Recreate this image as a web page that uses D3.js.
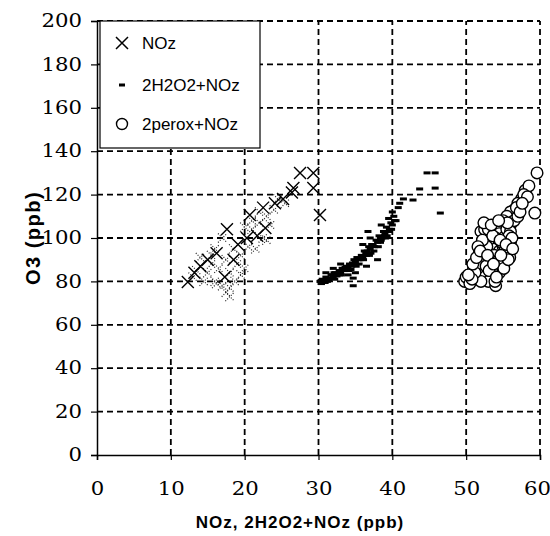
<!DOCTYPE html>
<html lang="en">
<head>
<meta charset="UTF-8">
<title>O3 vs NOz</title>
<script src="https://cdn.jsdelivr.net/npm/d3@7"></script>
<style>
  body { margin: 0; background: #fff; }
</style>
</head>
<body>
<div id="chart"></div>
<script>
// axis ticks
var xTicks = [0, 10, 20, 30, 40, 50, 60];
var yTicks = [0, 20, 40, 60, 80, 100, 120, 140, 160, 180, 200];

// NOz (clear crosses)
var nozX = [12.3, 14, 15, 16.2, 17.6, 17.3, 19.1, 20.3, 20.7, 21.7, 22.8, 22.5, 24.1, 25.2, 26.4, 27.5, 29.3, 26.6, 29.3, 30.2, 13.2, 18.5];
var nozY = [79.7, 87, 90, 93, 104, 82, 97, 100, 110.6, 101, 104.6, 114, 116, 118, 121, 130, 130, 123, 123, 110.6, 84, 90];

// NOz (faint, poorly printed crosses)
var nozFaintX = [13, 13.5, 14.5, 15, 15.5, 16, 16.5, 17, 17.5, 17.5, 18, 18.5, 18.7, 19, 19.5, 20, 20.5, 21, 21.5, 22, 22.5, 23, 23.5, 24, 24.5, 25.5, 16, 17, 14, 18, 19.5, 15.5, 23, 16.2, 18, 20, 21, 22];
var nozFaintY = [82, 85, 80, 84, 88, 80, 86, 78, 75, 90, 84, 95, 80, 88, 92, 86, 96, 104, 95, 107, 100, 110, 106, 113, 118, 116, 95, 100, 91, 73, 83, 92, 99, 79, 77, 105, 108, 112];

// 2H2O2+NOz (dashes)
var h2o2X = [30.2, 30.5, 30.8, 31, 31.2, 31.5, 31.8, 32, 32.3, 32.5, 32.8, 33, 33.2, 33.5, 33.8, 34, 34.2, 34.5, 34.8, 35, 35.2, 35.5, 35.8, 36, 36.2, 36.5, 36.8, 37, 37.2, 37.5, 37.8, 38, 38.2, 38.5, 38.8, 39, 39.2, 39.5, 39.8, 40, 40.2, 40.5, 40, 39.5, 38.5, 37, 36, 33, 32, 35, 36.5, 38, 34, 31, 40.8, 41, 41.5, 42.8, 43.7, 45.8, 44.7, 45.8, 46.5, 34.7, 34.7, 36.7,
            30.4, 30.9, 31.4, 31.7, 32.2, 32.6, 33.1, 33.6, 34.1, 34.6, 35.1, 35.6, 36.1, 36.6, 37.1, 37.6, 38.1, 38.6, 39.1, 39.6, 31.1, 32.1, 33.3, 34.4, 35.4, 36.4, 37.4, 38.4, 39.3, 40.3, 32.9, 34.9, 36.9, 38.9, 39.9];
var h2o2Y = [80, 81, 80.5, 82, 80, 81.5, 83, 82, 84, 82.5, 85, 84, 86, 85, 87, 86, 88, 87, 90, 89, 91, 88, 92, 91, 94, 92, 96, 95, 97, 94, 99, 98, 101, 99, 103, 102, 105, 103, 107, 106, 110, 108, 112, 109, 106, 100, 97, 88, 86, 84, 87, 90, 83, 84, 114, 116, 118, 117.5, 122.6, 123, 130, 130, 111.5, 81.5, 78, 103,
            79, 79.5, 80.5, 83, 81, 83.5, 83, 86.5, 85, 88.5, 87, 90, 90, 94, 93, 96, 96, 100, 100, 104, 81, 84, 86, 85.5, 90, 93, 97, 98, 101, 108, 83, 87.5, 92, 101, 104];

// 2perox+NOz (circles)
var peroxX = [49.8, 50, 50.5, 59.6, 59.3, 58, 57.5, 57, 56.5, 58.5, 57.8, 56, 55.5, 55, 54, 53, 52.5, 52, 53.5, 54.5, 55, 52, 53, 54, 55.5, 56, 53, 52, 51.5, 51, 52.5, 53.5, 54, 54.5, 55, 56, 55.5, 53, 54, 52, 51, 52.5, 53.5, 54.5, 55, 54, 53, 52.5, 56.5, 57, 55, 54.5, 53.5, 52, 56, 51.5, 52, 52.5, 53,
             51.8, 52.8, 53.8, 54.8, 55.8, 53.2, 54.2, 55.2, 56.2, 52.2, 51.2, 50.8, 53.6, 54.6, 55.6, 56.8, 57.3, 58.3, 52.4, 53.4, 54.4, 55.4, 51.6, 50.3, 53.9, 55.9, 57.6,
             50.9, 51.4, 52.7, 53.1, 54.1, 55.1, 55.7, 56.3, 51.9, 52.9, 53.7, 54.7];
var peroxY = [80, 82, 79, 130, 111.5, 122, 118, 116, 113, 124, 120, 112, 110, 108, 105, 103, 100, 97, 98, 102, 100, 92, 94, 96, 104, 106, 88, 86, 84, 82, 82, 83, 86, 90, 92, 98, 95, 80, 78, 80, 86, 90, 91, 94, 96, 100, 99, 95, 108, 110, 88, 84, 86, 89, 103, 88, 103, 104, 104,
             93, 96, 92, 98, 101, 90, 89, 94, 100, 99, 84, 81, 101, 99, 107, 114, 112, 119, 107, 106, 108, 97, 96, 83, 80, 91, 116,
             88, 91, 87, 85, 82, 86, 90, 95, 94, 92, 88, 92];

var legendLabels = ["NOz", "2H2O2+NOz", "2perox+NOz"];

var width = 550, height = 536;
var margin = { left: 97, right: 10, top: 21, bottom: 81 };

var svg = d3.select("#chart").append("svg")
    .attr("width", width)
    .attr("height", height);

var x = d3.scaleLinear().domain([0, 60]).range([margin.left, width - margin.right]);
var y = d3.scaleLinear().domain([0, 200]).range([height - margin.bottom, margin.top]);

// dashed grid (includes top and right borders)
svg.append("g").selectAll("line")
    .data(yTicks.filter(function(d) { return d > 0; }))
    .enter().append("line")
    .attr("x1", x(0)).attr("x2", x(60))
    .attr("y1", function(d) { return y(d); })
    .attr("y2", function(d) { return y(d); })
    .attr("stroke", "#000")
    .attr("stroke-width", 1.8)
    .attr("stroke-dasharray", "6,4");

svg.append("g").selectAll("line")
    .data(xTicks.filter(function(d) { return d > 0; }))
    .enter().append("line")
    .attr("y1", y(0)).attr("y2", y(200))
    .attr("x1", function(d) { return x(d); })
    .attr("x2", function(d) { return x(d); })
    .attr("stroke", "#000")
    .attr("stroke-width", 1.8)
    .attr("stroke-dasharray", "6,4");

// axes
var yAxis = svg.append("g")
    .attr("transform", "translate(" + x(0) + ",0)")
    .call(d3.axisLeft(y).tickValues(yTicks).tickSize(6).tickPadding(9));
var xAxis = svg.append("g")
    .attr("transform", "translate(0," + y(0) + ")")
    .call(d3.axisBottom(x).tickValues(xTicks).tickSize(5).tickPadding(22));

[xAxis, yAxis].forEach(function(ax) {
    ax.attr("font-family", "DejaVu Serif").attr("font-size", 18);
    ax.select(".domain").attr("stroke", "#000").attr("stroke-width", 1.5);
    ax.selectAll(".tick line").attr("stroke", "#000").attr("stroke-width", 1.2);
    ax.selectAll(".tick text")
        .attr("fill", "#000")
        .attr("font-family", "DejaVu Serif")
        .attr("font-size", 18)
        .attr("textLength", function(d) { return String(d).length * 13.5; })
        .attr("lengthAdjust", "spacingAndGlyphs");
});
// keep the last x label inside the picture, as in the reference
xAxis.selectAll(".tick text").filter(function(d) { return d === 60; }).attr("dx", -3);

// axis titles
svg.append("text")
    .attr("x", 300).attr("y", 528)
    .attr("text-anchor", "middle")
    .style("font-family", "'Liberation Sans', Arial, sans-serif")
    .style("font-weight", "bold")
    .style("font-size", "17px")
    .style("letter-spacing", "1px")
    .text("NOz, 2H2O2+NOz (ppb)");

svg.append("text")
    .attr("transform", "translate(40," + y(100) + ") rotate(-90)")
    .attr("text-anchor", "middle")
    .style("font-family", "'Liberation Sans', Arial, sans-serif")
    .style("font-weight", "bold")
    .style("font-size", "20px")
    .style("letter-spacing", "1.5px")
    .text("O3 (ppb)");

// marker helpers
function cross(cx, cy, s) {
    return "M" + (cx - s) + "," + (cy - s) + "L" + (cx + s) + "," + (cy + s) +
           "M" + (cx - s) + "," + (cy + s) + "L" + (cx + s) + "," + (cy - s);
}

var plot = svg.append("g");

// faint crosses
plot.append("g").selectAll("path")
    .data(d3.range(nozFaintX.length))
    .enter().append("path")
    .attr("d", function(i) { return cross(x(nozFaintX[i]), y(nozFaintY[i]), 4.5); })
    .attr("stroke", "#222")
    .attr("stroke-width", 1.2)
    .attr("stroke-dasharray", "1,1.6")
    .attr("fill", "none");

// crosses
plot.append("g").selectAll("path")
    .data(d3.range(nozX.length))
    .enter().append("path")
    .attr("d", function(i) { return cross(x(nozX[i]), y(nozY[i]), 6); })
    .attr("stroke", "#000")
    .attr("stroke-width", 1.4)
    .attr("fill", "none");

// dashes
plot.append("g").selectAll("rect")
    .data(d3.range(h2o2X.length))
    .enter().append("rect")
    .attr("x", function(i) { return x(h2o2X[i]) - 3.5; })
    .attr("y", function(i) { return y(h2o2Y[i]) - 1.5; })
    .attr("width", 7)
    .attr("height", 3)
    .attr("fill", "#000");

// circles
plot.append("g").selectAll("circle")
    .data(d3.range(peroxX.length))
    .enter().append("circle")
    .attr("cx", function(i) { return x(peroxX[i]); })
    .attr("cy", function(i) { return y(peroxY[i]); })
    .attr("r", 5.8)
    .attr("fill", "#fff")
    .attr("stroke", "#000")
    .attr("stroke-width", 1.4);

// legend
var legend = svg.append("g");
legend.append("rect")
    .attr("x", 100).attr("y", 21)
    .attr("width", 160).attr("height", 127)
    .attr("fill", "#fff")
    .attr("stroke", "#000")
    .attr("stroke-width", 1.2);

var legY = [43, 85, 124];
legend.append("path")
    .attr("d", cross(122, legY[0], 6))
    .attr("stroke", "#000").attr("stroke-width", 1.5).attr("fill", "none");
legend.append("rect")
    .attr("x", 119).attr("y", legY[1] - 1.5)
    .attr("width", 6).attr("height", 3)
    .attr("fill", "#000");
legend.append("circle")
    .attr("cx", 122).attr("cy", legY[2]).attr("r", 5.5)
    .attr("fill", "#fff").attr("stroke", "#000").attr("stroke-width", 1.4);

legend.selectAll("text")
    .data(legendLabels)
    .enter().append("text")
    .attr("x", 142)
    .attr("y", function(d, i) { return legY[i] + 6; })
    .style("font-family", "'Liberation Sans', Arial, sans-serif")
    .style("font-size", "17px")
    .text(function(d) { return d; });
</script>
</body>
</html>
